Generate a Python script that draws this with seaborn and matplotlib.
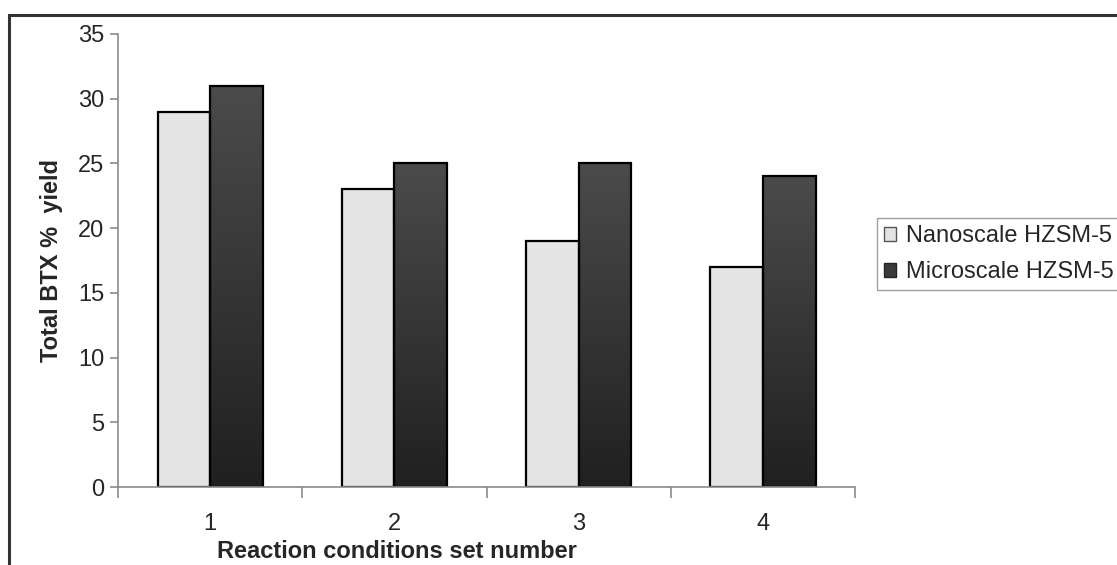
import numpy as np
import pandas as pd
import matplotlib.pyplot as plt
import matplotlib.ticker as mticker
from matplotlib.patches import Rectangle
import seaborn as sns

sets = ["1", "2", "3", "4"]
nano = [29, 23, 19, 17]
micro = [31, 25, 25, 24]
series = ["Nanoscale HZSM-5", "Microscale HZSM-5"]

df = pd.DataFrame({
    "set": sets * 2,
    "yield": nano + micro,
    "catalyst": [series[0]] * 4 + [series[1]] * 4,
})

sns.set_theme(style="white")
plt.rcParams['font.family'] = ['Liberation Sans', 'DejaVu Sans']

fig = plt.figure(figsize=(11.17, 5.65), dpi=100)
ax = fig.add_axes([0.1056, 0.138, 0.66, 0.802])

light = "#e4e4e4"
dark = "#333333"
sns.barplot(data=df, x="set", y="yield", hue="catalyst", palette=[light, dark],
            width=0.57, gap=0, edgecolor="black", linewidth=1.6, ax=ax,
            legend=False)

# gradient fill for the dark bars (lighter at top)
grad = np.linspace(0, 1, 256).reshape(-1, 1)
cmap = plt.matplotlib.colors.LinearSegmentedColormap.from_list("g", ["#4b4b4b", "#202020"])
for p in ax.containers[1]:
    x0, y0 = p.get_x(), p.get_y()
    w, h = p.get_width(), p.get_height()
    im = ax.imshow(grad, cmap=cmap, aspect="auto", extent=[x0, x0 + w, y0, y0 + h],
                   origin="upper", zorder=p.get_zorder() - 0.1)
    im.set_clip_path(p)
    p.set_facecolor("none")

ax.set_xlim(-0.5, 3.5)
ax.set_ylim(0, 35)
ax.yaxis.set_major_locator(mticker.MultipleLocator(5))

# category boundaries as major ticks, labels on minor ticks at centres
ax.set_xticks(np.arange(-0.5, 4.0, 1.0))
ax.set_xticklabels([])
ax.set_xticks(range(4), minor=True)
ax.set_xticklabels(sets, minor=True)

spine_col = "#8a8a8a"
for s in ["top", "right"]:
    ax.spines[s].set_visible(False)
for s in ["left", "bottom"]:
    ax.spines[s].set_color(spine_col)
    ax.spines[s].set_linewidth(1.2)

ax.tick_params(axis="y", which="major", direction="out", length=6, width=1.2,
               color=spine_col, labelsize=17, pad=4, left=True)
ax.tick_params(axis="x", which="major", direction="out", length=8, width=1.2,
               color=spine_col, bottom=True)
ax.tick_params(axis="x", which="minor", length=0, labelsize=17, pad=19)

ax.set_xlabel("Reaction conditions set number", fontsize=17, fontweight="bold")
ax.xaxis.set_label_coords(0.378, -0.118)
ax.set_ylabel("Total BTX %  yield", fontsize=17, fontweight="bold", labelpad=11)

handles = [Rectangle((0, 0), 1, 1, facecolor=light, edgecolor="#555555", lw=1),
           Rectangle((0, 0), 1, 1, facecolor="#3a3a3a", edgecolor="#222222", lw=1)]
leg = fig.legend(handles, series, loc="center left", bbox_to_anchor=(0.785, 0.55),
                 fontsize=17, frameon=True, fancybox=False, handlelength=0.5,
                 handleheight=0.5, handletextpad=0.45, borderpad=0.3,
                 labelspacing=0.6, borderaxespad=0)
leg.get_frame().set_edgecolor("#888888")
leg.get_frame().set_linewidth(1.0)

# figure border
fig.patches.append(Rectangle((0.008, -0.01), 1.1, 0.984, transform=fig.transFigure,
                             fill=False, edgecolor="#333333", linewidth=2.2))

fig.savefig("out.png", dpi=100)
